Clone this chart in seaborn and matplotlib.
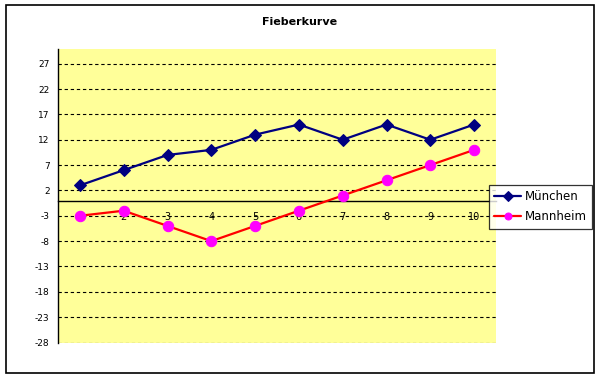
import numpy as np
import pandas as pd
import matplotlib
matplotlib.use("Agg")
import matplotlib.pyplot as plt
from matplotlib.patches import Rectangle
from matplotlib.ticker import FixedLocator
import seaborn as sns

# data
tage = [1, 2, 3, 4, 5, 6, 7, 8, 9, 10]
muenchen = [3, 6, 9, 10, 13, 15, 12, 15, 12, 15]
mannheim = [-3, -2, -5, -8, -5, -2, 1, 4, 7, 10]
y_ticks = [-28, -23, -18, -13, -8, -3, 2, 7, 12, 17, 22, 27]

df = pd.DataFrame({"Tag": tage, "München": muenchen, "Mannheim": mannheim})

sns.set_style("white")
plt.rcParams["font.family"] = ["DejaVu Sans"]
plt.rcParams["text.color"] = "black"
plt.rcParams["xtick.color"] = "black"
plt.rcParams["ytick.color"] = "black"

fig = plt.figure(figsize=(6.01, 3.79), dpi=100)
W, H = 601, 379
ax = fig.add_axes([58 / W, 1 - 342.5 / H, (496 - 58) / W, (342.5 - 48.5) / H])
ax.set_facecolor("#FFFF99")

for y in y_ticks:
    ax.axhline(y, color="black", lw=0.8, ls=(0, (3, 2.5)), zorder=1)

sns.lineplot(data=df, x="Tag", y="München", ax=ax, color="#000080", lw=1.6,
             marker="D", markersize=6, markerfacecolor="#000080",
             markeredgecolor="#000080", label="München", zorder=3)
sns.lineplot(data=df, x="Tag", y="Mannheim", ax=ax, color="#FF0000", lw=1.6,
             marker="o", markersize=7.5, markerfacecolor="#FF00FF",
             markeredgecolor="#FF00FF", label="Mannheim", zorder=3)

ax.set_xlim(0.5, 10.5)
ax.set_ylim(-28, 30)
ax.set_xlabel("")
ax.set_ylabel("")

for s in ["top", "right"]:
    ax.spines[s].set_visible(False)
ax.spines["bottom"].set_position(("data", 0))
ax.spines["bottom"].set_color("black")
ax.spines["bottom"].set_linewidth(1.0)
ax.spines["bottom"].set_zorder(2)
ax.spines["left"].set_color("black")
ax.spines["left"].set_linewidth(1.0)

ax.set_yticks(y_ticks)
ax.set_yticklabels([str(v) for v in y_ticks], fontsize=6.5)
ax.tick_params(axis="y", direction="out", length=3, width=0.8, pad=3, colors="black")

ax.set_xticks(tage)
ax.set_xticklabels([str(t) for t in tage], fontsize=7)
ax.tick_params(axis="x", which="major", length=0, pad=8)
ax.xaxis.set_minor_locator(FixedLocator(np.arange(0.5, 11, 1)))
ax.tick_params(axis="x", which="minor", direction="in", length=3, width=0.8, color="black")

fig.text(300 / W, 1 - 22 / H, "Fieberkurve", ha="center", va="center",
         fontsize=8, fontweight="semibold")

h, l = ax.get_legend_handles_labels()
ax.get_legend().remove()
leg = fig.legend(h, l, loc="upper left", bbox_to_anchor=(489 / W, 1 - 185 / H),
                 borderaxespad=0, frameon=True, fancybox=False, fontsize=8.5,
                 handlelength=2.3, handletextpad=0.3, borderpad=0.45,
                 labelspacing=0.6)
leg.get_frame().set_edgecolor("black")
leg.get_frame().set_linewidth(0.9)
for lh in leg.legend_handles:
    lh.set_markersize(5)

fig.patches.append(Rectangle((6 / W, 1 - 373 / H), (594 - 6) / W, (373 - 5) / H,
                             transform=fig.transFigure, fill=False,
                             edgecolor="black", lw=1.2))

fig.savefig("out.png", dpi=100)
